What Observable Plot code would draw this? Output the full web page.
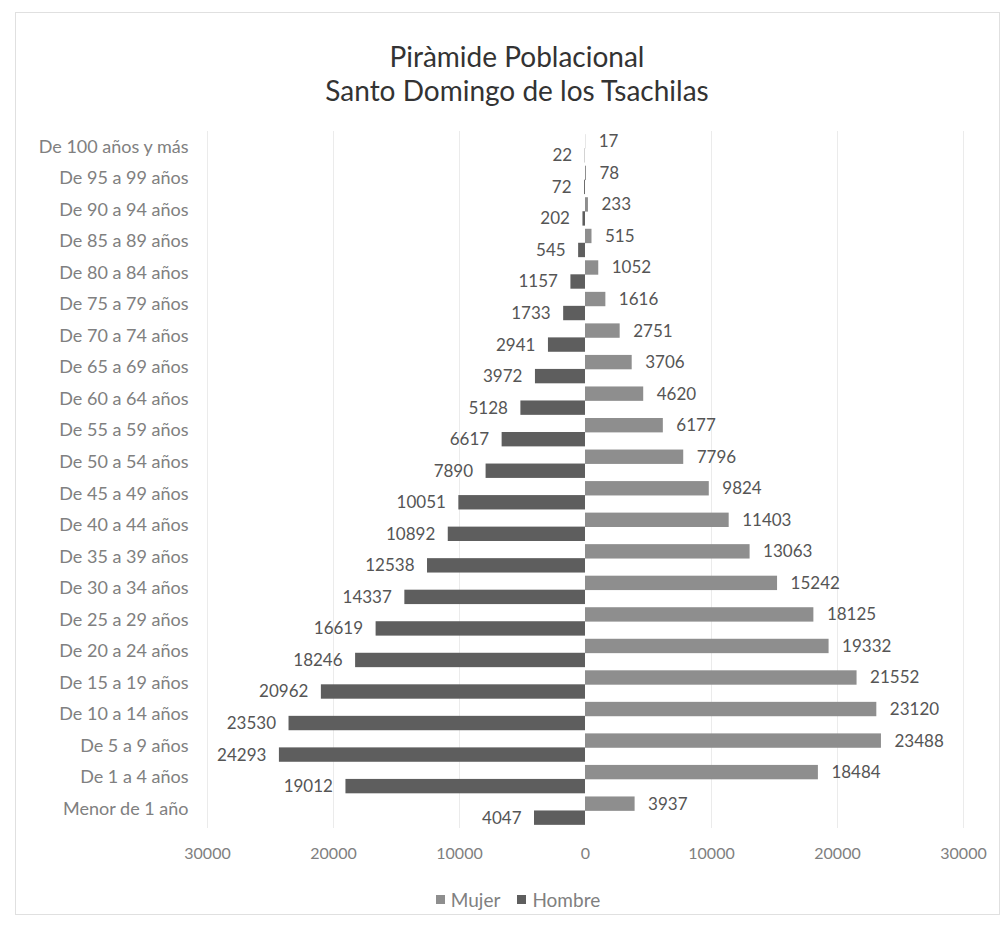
<!DOCTYPE html>
<html><head><meta charset="utf-8">
<script src="https://cdn.jsdelivr.net/npm/d3@7"></script>
<script src="https://cdn.jsdelivr.net/npm/@observablehq/plot@0.6"></script>
<style>
body{margin:0;background:#fff;font-family:Lato,sans-serif;}
#frame{position:absolute;left:15px;top:12px;width:985px;height:903px;border:1px solid #e0e0e0;box-sizing:border-box;}
.title{position:absolute;left:0;width:1034px;text-align:center;font-family:Lato,sans-serif;font-size:28px;line-height:30px;height:30px;color:#333;white-space:nowrap;}
#t1{top:41px;}
#t2{top:75px;}
#chart{position:absolute;left:0;top:120px;}
#legend{position:absolute;left:0;top:888px;width:1036px;display:flex;justify-content:center;gap:17px;font-family:Lato,sans-serif;font-size:19px;color:#808080;}
#legend span.item{display:flex;align-items:center;gap:6px;}
#legend i{display:inline-block;width:9px;height:9px;}
</style></head>
<body>
<div id="frame"></div>
<div class="title" id="t1">Piràmide Poblacional</div>
<div class="title" id="t2">Santo Domingo de los Tsachilas</div>
<div id="chart"></div>
<div id="legend"></div>
<script>
const categories = ["De 100 años y más","De 95 a 99 años","De 90 a 94 años","De 85 a 89 años","De 80 a 84 años","De 75 a 79 años","De 70 a 74 años","De 65 a 69 años","De 60 a 64 años","De 55 a 59 años","De 50 a 54 años","De 45 a 49 años","De 40 a 44 años","De 35 a 39 años","De 30 a 34 años","De 25 a 29 años","De 20 a 24 años","De 15 a 19 años","De 10 a 14 años","De 5 a 9 años","De 1 a 4 años","Menor de 1 año"];
const mujer = [17,78,233,515,1052,1616,2751,3706,4620,6177,7796,9824,11403,13063,15242,18125,19332,21552,23120,23488,18484,3937];
const hombre = [22,72,202,545,1157,1733,2941,3972,5128,6617,7890,10051,10892,12538,14337,16619,18246,20962,23530,24293,19012,4047];
const xTicks = [-30000,-20000,-10000,0,10000,20000,30000];
const gridTicks = [-30000,-20000,-10000,10000,20000,30000];
const series = ["Mujer","Hombre"];
const colors = ["#8e8e8e","#5e5e5e"];

const rows = categories.map((c,i)=>({grupo:c, mujer:mujer[i], hombre:hombre[i]}));

const chart = Plot.plot({
  width:1008, height:760,
  marginTop:11, marginBottom:52, marginLeft:207, marginRight:45,
  style:{fontFamily:"Lato, sans-serif", fontSize:"16px", color:"#808080", background:"transparent"},
  x:{domain:[-30000,30000], label:null},
  y:{domain:categories, padding:0.1, round:false, label:null},
  marks:[
    Plot.ruleX(gridTicks,{stroke:"#ebebeb"}),
    Plot.axisX({ticks:xTicks, tickFormat:d=>String(Math.abs(d)), tickSize:0, tickPadding:19, fontSize:16, label:null}),
    Plot.axisY({tickSize:0, tickPadding:19, fontSize:18, dy:-2, label:null}),
    Plot.barX(rows,{y:"grupo", x1:0, x2:"mujer", fill:colors[0], insetBottom:14}),
    Plot.barX(rows,{y:"grupo", x1:0, x2:d=>-d.hombre, fill:colors[1], insetTop:14}),
    Plot.text(rows,{y:"grupo", x:"mujer", text:d=>String(d.mujer), dx:13, dy:-7, textAnchor:"start", fill:"#555", fontSize:17}),
    Plot.text(rows,{y:"grupo", x:d=>-d.hombre, text:d=>String(d.hombre), dx:-13, dy:7, textAnchor:"end", fill:"#555", fontSize:17})
  ]
});
document.getElementById("chart").appendChild(chart);

const leg = document.getElementById("legend");
series.forEach((s,i)=>{
  const it = document.createElement("span"); it.className="item";
  const sw = document.createElement("i"); sw.style.background = colors[i];
  it.appendChild(sw); it.appendChild(document.createTextNode(s));
  leg.appendChild(it);
});
</script>
</body></html>
